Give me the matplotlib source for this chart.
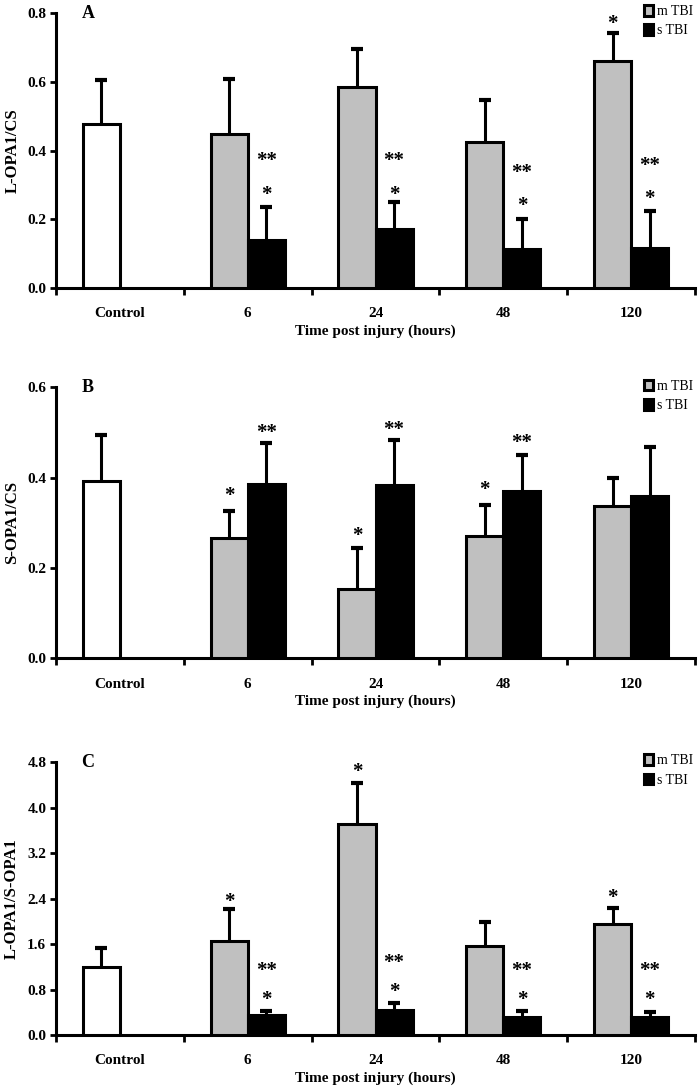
import numpy as np
import matplotlib
matplotlib.use('Agg')
import matplotlib.pyplot as plt
from matplotlib.patches import Patch

plt.rcParams['font.family'] = ['Liberation Serif', 'DejaVu Serif']
plt.rcParams['font.weight'] = 'bold'

groups = ['Control', '6', '24', '48', '120']
hours = ['6', '24', '48', '120']

# panel A: L-OPA1/CS
a_ctrl, a_ctrl_err = 0.476, 0.606
a_m = [0.447, 0.585, 0.425, 0.660]
a_m_err = [0.609, 0.694, 0.548, 0.742]
a_s = [0.140, 0.171, 0.113, 0.116]
a_s_err = [0.237, 0.251, 0.201, 0.224]

# panel B: S-OPA1/CS
b_ctrl, b_ctrl_err = 0.393, 0.495
b_m = [0.267, 0.153, 0.271, 0.338]
b_m_err = [0.327, 0.243, 0.340, 0.399]
b_s = [0.386, 0.384, 0.370, 0.360]
b_s_err = [0.476, 0.484, 0.450, 0.468]

# panel C: L-OPA1/S-OPA1
c_ctrl, c_ctrl_err = 1.20, 1.54
c_m = [1.655, 3.71, 1.57, 1.95]
c_m_err = [2.21, 4.44, 1.99, 2.24]
c_s = [0.36, 0.44, 0.32, 0.32]
c_s_err = [0.42, 0.555, 0.42, 0.40]

# significance marks: (group index 1..4, 'm' or 's', text, y)
a_marks = [(1, 's', '**', 0.37), (1, 's', '*', 0.272),
           (2, 's', '**', 0.37), (2, 's', '*', 0.272),
           (3, 's', '**', 0.335), (3, 's', '*', 0.238),
           (4, 's', '**', 0.355), (4, 's', '*', 0.258),
           (4, 'm', '*', 0.768)]
b_marks = [(1, 'm', '*', 0.36), (1, 's', '**', 0.50),
           (2, 'm', '*', 0.27), (2, 's', '**', 0.505),
           (3, 'm', '*', 0.372), (3, 's', '**', 0.477)]
c_marks = [(1, 'm', '*', 2.34), (1, 's', '**', 1.13), (1, 's', '*', 0.62),
           (2, 'm', '*', 4.62), (2, 's', '**', 1.27), (2, 's', '*', 0.76),
           (3, 's', '**', 1.13), (3, 's', '*', 0.62),
           (4, 'm', '*', 2.41), (4, 's', '**', 1.13), (4, 's', '*', 0.62)]

panels = [
    ('A', 'L-OPA1/CS', a_ctrl, a_ctrl_err, a_m, a_m_err, a_s, a_s_err, a_marks, 0.8, 0.2),
    ('B', 'S-OPA1/CS', b_ctrl, b_ctrl_err, b_m, b_m_err, b_s, b_s_err, b_marks, 0.6, 0.2),
    ('C', 'L-OPA1/S-OPA1', c_ctrl, c_ctrl_err, c_m, c_m_err, c_s, c_s_err, c_marks, 4.8, 0.8),
]

gray = '#c0c0c0'
w = 0.29
fig = plt.figure(figsize=(7, 10.87), dpi=100)
rects = [[0.08, 0.735, 0.913, 0.253],
         [0.08, 0.3946, 0.913, 0.249],
         [0.08, 0.0478, 0.913, 0.251]]


def up_err(ax, xs, tops, errs):
    xs = np.atleast_1d(xs)
    tops = np.atleast_1d(tops)
    errs = np.atleast_1d(errs)
    _, caps, _ = ax.errorbar(xs, tops, yerr=[np.zeros(len(xs)), errs - tops],
                             fmt='none', ecolor='black', elinewidth=2.2,
                             capsize=4, capthick=3, zorder=2)
    caps[0].set_visible(False)


for rect, p in zip(rects, panels):
    letter, ylab, ctrl, ctrl_err, m, m_err, s, s_err, marks, ytop, ystep = p
    ax = fig.add_axes(rect)
    x = np.arange(1, 5)
    xm = x - w / 2
    xs = x + w / 2
    kw = dict(edgecolor='black', linewidth=2.2, zorder=3)
    ax.bar([-w / 2], [ctrl], w, color='white', **kw)
    ax.bar(xm, m, w, color=gray, **kw)
    ax.bar(xs, s, w, color='black', **kw)
    up_err(ax, [-w / 2], [ctrl], [ctrl_err])
    up_err(ax, xm, m, m_err)
    up_err(ax, xs, s, s_err)
    for gi, which, txt, yy in marks:
        xx = gi - w / 2 if which == 'm' else gi + w / 2
        ax.text(xx, yy, txt, ha='center', va='center', fontsize=15, fontweight='bold')

    ax.set_xlim(-0.5, 4.5)
    ax.set_ylim(0, ytop)
    yt = np.arange(0, ytop + ystep / 2, ystep)
    ax.set_yticks(yt)
    ax.set_yticklabels(['%.1f' % v for v in yt], fontsize=11, fontweight='bold')
    ax.set_xticks(np.arange(5))
    ax.set_xticklabels(groups, fontsize=11, fontweight='bold')
    ax.set_xticks(np.arange(-0.5, 5, 1), minor=True)
    ax.tick_params(axis='x', which='major', length=0, pad=14)
    ax.tick_params(axis='x', which='minor', length=5, width=2, direction='out')
    ax.tick_params(axis='y', length=4, width=2, direction='out', pad=3)
    for sp in ['top', 'right']:
        ax.spines[sp].set_visible(False)
    for sp in ['left', 'bottom']:
        ax.spines[sp].set_linewidth(2.2)
    ax.set_xlabel('Time post injury (hours)', fontsize=11, fontweight='bold', labelpad=3)
    ax.set_ylabel(ylab, fontsize=12, fontweight='bold', labelpad=5)
    ax.text(0.04, 1.0, letter, transform=ax.transAxes, ha='left', va='center',
            fontsize=13, fontweight='bold')
    handles = [Patch(facecolor=gray, edgecolor='black', linewidth=2.2, label='m TBI'),
               Patch(facecolor='black', edgecolor='black', linewidth=2.2, label='s TBI')]
    ax.legend(handles=handles, loc='upper right', bbox_to_anchor=(1.01, 1.06),
              frameon=False, handlelength=0.65, handleheight=0.8,
              handletextpad=0.3, labelspacing=0.45, borderaxespad=0.2,
              prop={'family': 'Liberation Serif', 'weight': 'normal', 'size': 10})

fig.savefig('out.png', dpi=100)
